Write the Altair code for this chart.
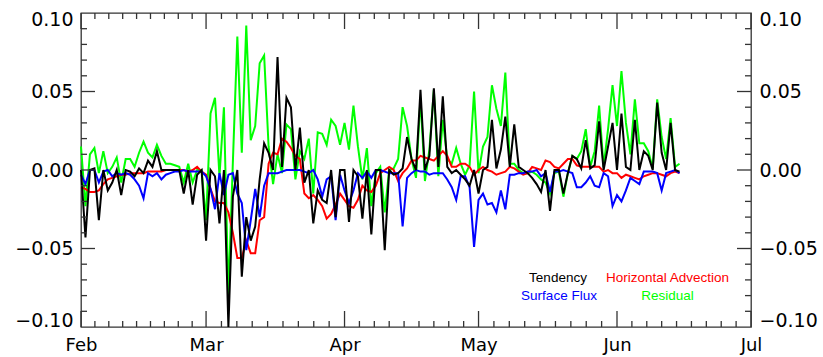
import json
import altair as alt
import pandas as pd

# ---------------- data (daily values starting 1 Feb) ----------------
month_names = ["Feb", "Mar", "Apr", "May", "Jun", "Jul"]
month_starts = [0, 28, 59, 89, 120, 150]  # days after 1 Feb

tendency = [
    0.000, -0.043, 0.000, 0.001, -0.032, 0.000, -0.013, -0.008, 0.000, -0.016,
    0.000, -0.001, -0.004, 0.001, -0.002, 0.006, 0.002, 0.012, 0.000, 0.000,
    0.000, 0.000, 0.000, -0.015, 0.000, -0.022, -0.003, 0.000, -0.045, 0.000,
    -0.004, -0.034, 0.000, -0.100, -0.017, 0.000, -0.068, -0.030, -0.045, -0.036,
    -0.006, 0.017, 0.011, 0.000, 0.072, 0.002, 0.046, 0.040, 0.000, 0.027,
    -0.008, 0.000, -0.034, -0.013, -0.019, -0.021, 0.000, -0.030, 0.000, 0.000,
    -0.033, 0.000, -0.004, -0.031, 0.000, -0.041, 0.000, 0.000, -0.051, 0.000,
    -0.003, -0.002, 0.001, 0.021, 0.007, 0.000, 0.051, 0.000, 0.009, 0.052,
    0.002, 0.047, 0.002, -0.002, 0.000, -0.003, -0.006, -0.010, 0.000, -0.015,
    0.000, 0.002, 0.032, 0.001, 0.013, 0.034, 0.002, 0.029, 0.002, 0.000,
    -0.002, -0.005, -0.009, -0.014, 0.000, -0.026, 0.000, 0.000, -0.015, -0.002,
    0.009, 0.007, 0.001, 0.019, 0.001, 0.003, 0.031, 0.000, 0.015, 0.030,
    0.000, 0.036, 0.002, 0.000, 0.032, 0.000, 0.012, 0.009, 0.000, 0.043,
    0.011, 0.000, 0.030, 0.000, -0.001,
]

horizontal_advection = [
    -0.011, -0.012, -0.014, -0.014, -0.013, -0.009, -0.006, -0.005, -0.004, -0.003,
    -0.003, -0.002, -0.002, -0.002, -0.002, -0.001, -0.001, -0.001, -0.001, 0.000,
    0.000, 0.000, 0.000, 0.000, -0.001, 0.000, 0.002, -0.001, -0.003, -0.012,
    -0.020, -0.021, -0.021, -0.027, -0.040, -0.056, -0.056, -0.045, -0.053, -0.053,
    -0.032, -0.030, 0.004, 0.011, 0.010, 0.020, 0.018, 0.014, 0.009, 0.007,
    -0.015, -0.018, -0.016, -0.019, -0.023, -0.031, -0.028, -0.022, -0.015, -0.019,
    -0.023, -0.024, -0.019, -0.010, -0.013, -0.014, -0.010, -0.002, 0.000, 0.002,
    0.000, -0.007, -0.002, 0.001, 0.006, 0.006, 0.009, 0.008, 0.007, 0.006,
    0.009, 0.012, 0.009, 0.002, 0.002, 0.004, 0.004, 0.002, -0.003, 0.000,
    0.002, 0.000, -0.001, -0.003, -0.002, -0.001, 0.002, 0.001, -0.001, -0.003,
    -0.002, 0.002, 0.001, 0.000, 0.006, 0.005, 0.002, 0.001, 0.004, 0.007,
    0.007, 0.003, 0.002, 0.002, 0.002, 0.002, 0.002, -0.001, 0.000, -0.002,
    -0.002, -0.005, -0.003, -0.004, -0.005, -0.006, -0.004, -0.003, -0.002, -0.002,
    -0.003, -0.004, -0.002, -0.001, -0.002,
]

surface_flux = [
    -0.003, -0.009, 0.000, 0.000, -0.008, -0.001, 0.000, -0.004, -0.002, -0.003,
    -0.002, -0.003, -0.006, -0.010, -0.018, -0.002, -0.004, -0.002, -0.006, -0.003,
    -0.002, -0.001, -0.001, 0.000, -0.001, -0.001, -0.001, -0.001, -0.004, -0.012,
    -0.025, -0.002, -0.016, -0.003, -0.002, -0.015, -0.021, -0.051, -0.032, -0.012,
    -0.030, -0.010, -0.002, -0.002, -0.002, -0.001, 0.000, 0.000, 0.000, 0.000,
    -0.001, -0.002, 0.000, -0.006, -0.017, -0.006, -0.004, -0.032, -0.003, -0.013,
    -0.021, -0.013, -0.002, -0.005, -0.001, -0.005, 0.000, 0.000, -0.001, -0.002,
    -0.002, -0.002, -0.036, -0.005, -0.002, 0.000, -0.001, -0.001, -0.003, -0.002,
    -0.002, -0.002, -0.006, -0.011, -0.019, -0.004, -0.004, -0.011, -0.049, -0.019,
    -0.015, -0.022, -0.021, -0.027, -0.013, -0.025, -0.003, -0.003, -0.002, -0.002,
    -0.001, -0.001, 0.000, -0.004, -0.002, -0.014, -0.001, -0.001, 0.000, -0.001,
    -0.002, -0.011, -0.011, -0.008, -0.004, -0.010, -0.011, -0.002, -0.004, -0.023,
    -0.016, -0.020, -0.013, -0.005, -0.007, -0.009, -0.001, -0.001, -0.001, -0.002,
    -0.013, -0.002, -0.001, 0.000, -0.002,
]

residual = [
    0.015, -0.023, 0.010, 0.014, -0.002, 0.012, -0.002, 0.002, 0.008, -0.008,
    0.007, 0.007, 0.002, 0.011, 0.018, 0.011, 0.008, 0.016, 0.009, 0.004,
    0.004, 0.003, 0.002, -0.008, 0.004, -0.008, 0.000, 0.000, -0.032, 0.036,
    0.046, -0.004, 0.040, -0.080, 0.005, 0.085, 0.011, 0.092, 0.019, 0.028,
    0.068, 0.073, 0.015, -0.009, 0.010, -0.002, 0.029, 0.026, -0.006, 0.012,
    0.007, 0.020, -0.015, 0.024, 0.023, 0.016, 0.032, 0.028, 0.016, 0.030,
    0.013, 0.041, 0.015, -0.006, 0.014, -0.023, -0.002, 0.002, -0.027, 0.000,
    0.001, 0.007, 0.040, 0.028, 0.007, -0.005, 0.046, -0.007, 0.013, 0.051,
    -0.004, 0.032, 0.007, 0.004, 0.014, 0.004, -0.003, 0.003, 0.050, -0.002,
    0.015, 0.021, 0.054, 0.039, 0.028, 0.062, 0.004, 0.004, 0.000, -0.002,
    -0.002, -0.001, -0.003, -0.006, -0.008, -0.015, -0.002, -0.001, -0.017, -0.002,
    0.009, 0.007, 0.012, 0.026, 0.002, 0.012, 0.041, 0.002, 0.026, 0.054,
    0.028, 0.063, 0.030, 0.010, 0.045, 0.017, 0.017, 0.012, 0.001, 0.045,
    0.021, 0.007, 0.033, 0.002, 0.004,
]

legend_labels = ["Tendency", "Horizontal Advection", "Surface Flux", "Residual"]
legend_colors = ["#000000", "#ff0000", "#0000ff", "#00ff00"]

y_major_ticks = [-0.05, 0.0, 0.05]
y_minor_ticks = [-0.09, -0.08, -0.07, -0.06, -0.04, -0.03, -0.02, -0.01,
                 0.01, 0.02, 0.03, 0.04, 0.06, 0.07, 0.08, 0.09]
y_label_values = [-0.10, -0.05, 0.0, 0.05, 0.10]

# minor x ticks: each month divided into 9 parts
x_minor_ticks = []
for a, b in zip(month_starts[:-1], month_starts[1:]):
    for k in range(1, 9):
        x_minor_ticks.append(round(a + k * (b - a) / 9.0, 3))

# ---------------- layout ----------------
W, H = 670, 314
X0, X1 = 0, 150
Y0, Y1 = -0.10, 0.10
FONT = "DejaVu Sans"
LFONT = "Liberation Sans"
AXIS_COLOR = "#333333"

days = list(range(len(tendency)))


def frame(vals):
    return pd.DataFrame({"day": days, "value": vals})


x_scale = alt.Scale(domain=[X0, X1], nice=False, zero=False)
y_scale = alt.Scale(domain=[Y0, Y1], nice=False, zero=False)

month_expr = "%s[indexof(%s, datum.value)]" % (json.dumps(month_names), json.dumps(month_starts))

ax_x_labels = alt.Axis(orient="bottom", values=month_starts, labelExpr=month_expr,
                       ticks=False, domain=False, grid=False,
                       labelPadding=9, labelFont=FONT, labelFontSize=18,
                       labelColor="black", labelFlush=False, labelOverlap=False,
                       title=None)

ylab = dict(values=y_label_values, format=".2f", ticks=False,
            domain=False, grid=False, labelPadding=8, labelFont=FONT,
            labelFontSize=19, labelColor="black", labelFlush=True,
            labelFlushOffset=3, labelOverlap=False, title=None)
ax_y_left = alt.Axis(orient="left", **ylab)
ax_y_right = alt.Axis(orient="right", **ylab)

# inward-pointing tick segments on all four sides (lengths in pixels -> data units)
py = (Y1 - Y0) / H   # data units per pixel, vertical
px = (X1 - X0) / W   # data units per pixel, horizontal
seg = []
tid = 0
for vals, L in ((month_starts, 16), (x_minor_ticks, 6)):
    for v in vals:
        for yy in ((Y0, Y0 + L * py), (Y1, Y1 - L * py)):
            seg.append({"day": v, "value": yy[0], "tick": tid, "o": 0})
            seg.append({"day": v, "value": yy[1], "tick": tid, "o": 1})
            tid += 1
for vals, L in ((y_major_ticks, 14), (y_minor_ticks, 6)):
    for v in vals:
        for xx in ((X0, X0 + L * px), (X1, X1 - L * px)):
            seg.append({"day": xx[0], "value": v, "tick": tid, "o": 0})
            seg.append({"day": xx[1], "value": v, "tick": tid, "o": 1})
            tid += 1
ticks_df = pd.DataFrame(seg)

tick_layer = alt.Chart(ticks_df).mark_line(color=AXIS_COLOR, strokeWidth=1.3).encode(
    x=alt.X("day:Q", scale=x_scale, axis=ax_x_labels),
    y=alt.Y("value:Q", scale=y_scale, axis=ax_y_left),
    detail="tick:N",
    order="o:Q",
)


def line(vals, color, yaxis=None):
    return alt.Chart(frame(vals)).mark_line(
        color=color, strokeWidth=2
    ).encode(
        x=alt.X("day:Q", scale=x_scale, axis=None),
        y=alt.Y("value:Q", scale=y_scale, axis=yaxis),
    )


l_res = line(residual, legend_colors[3])
l_adv = line(horizontal_advection, legend_colors[1], ax_y_right)
l_flux = line(surface_flux, legend_colors[2])
l_tend = line(tendency, legend_colors[0])

# legend text (two columns, coloured text)
legend_pos = [(477, 269), (586.5, 269), (478, 287), (586.5, 287)]
legend_layers = []
for lab, col, (lx, ly) in zip(legend_labels, legend_colors, legend_pos):
    legend_layers.append(
        alt.Chart(pd.DataFrame({"t": [lab]})).mark_text(
            font=LFONT, fontSize=13.5, align="center", baseline="alphabetic", color=col
        ).encode(x=alt.value(lx), y=alt.value(ly), text="t:N")
    )

chart = alt.layer(
    l_res, l_adv, l_flux, l_tend, tick_layer, *legend_layers
).resolve_axis(
    x="independent", y="independent"
).properties(
    width=W, height=H,
    autosize=alt.AutoSizeParams(type="none"),
    padding={"left": 81, "top": 13, "right": 72, "bottom": 30},
    background="white",
).configure_view(
    stroke=AXIS_COLOR, strokeWidth=1.3
)

chart.save("out.html", embed_options={"renderer": "svg", "actions": False})
